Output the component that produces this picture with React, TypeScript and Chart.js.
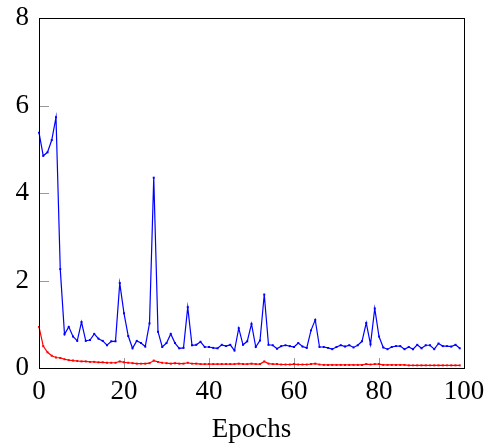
import React, { useEffect, useRef } from "react";
import { Chart, registerables } from "chart.js";

Chart.register(...registerables);

const epochs: number[] = Array.from({ length: 100 }, (_, i) => i);

const blueLoss: number[] = [
  5.38, 4.85, 4.93, 5.21, 5.73, 2.26, 0.77, 0.94, 0.72, 0.62,
  1.05, 0.62, 0.64, 0.78, 0.67, 0.62, 0.52, 0.61, 0.61, 1.94,
  1.25, 0.73, 0.45, 0.62, 0.57, 0.49, 1.02, 4.35, 0.83, 0.48,
  0.57, 0.78, 0.57, 0.45, 0.46, 1.39, 0.52, 0.53, 0.6, 0.48,
  0.48, 0.46, 0.45, 0.53, 0.5, 0.53, 0.4, 0.91, 0.53, 0.61,
  1.01, 0.48, 0.63, 1.68, 0.53, 0.52, 0.44, 0.5, 0.52, 0.5,
  0.48, 0.57, 0.49, 0.46, 0.86, 1.1, 0.48, 0.48, 0.46, 0.43,
  0.48, 0.52, 0.49, 0.52, 0.47, 0.52, 0.61, 1.03, 0.54, 1.36,
  0.72, 0.47, 0.43, 0.48, 0.5, 0.5, 0.43, 0.48, 0.43, 0.53,
  0.45, 0.52, 0.52, 0.43, 0.56, 0.5, 0.5, 0.49, 0.53, 0.45,
];

const redLoss: number[] = [
  0.94, 0.5, 0.36, 0.28, 0.24, 0.23, 0.2, 0.18, 0.17, 0.16,
  0.15, 0.15, 0.14, 0.14, 0.13, 0.13, 0.12, 0.12, 0.12, 0.15,
  0.13, 0.12, 0.11, 0.1, 0.1, 0.1, 0.11, 0.17, 0.14, 0.12,
  0.11, 0.1, 0.11, 0.1, 0.1, 0.12, 0.1, 0.1, 0.09, 0.09,
  0.09, 0.09, 0.09, 0.09, 0.09, 0.09, 0.09, 0.1, 0.09, 0.09,
  0.1, 0.09, 0.09, 0.15, 0.1, 0.09, 0.09, 0.08, 0.08, 0.08,
  0.09, 0.08, 0.08, 0.08, 0.09, 0.1, 0.08, 0.07, 0.07, 0.07,
  0.07, 0.07, 0.07, 0.07, 0.07, 0.07, 0.07, 0.09, 0.08, 0.09,
  0.09, 0.07, 0.07, 0.07, 0.07, 0.07, 0.07, 0.06, 0.06, 0.06,
  0.06, 0.06, 0.06, 0.06, 0.06, 0.06, 0.06, 0.06, 0.06, 0.06,
];

const xTicks: number[] = [0, 20, 40, 60, 80, 100];
const yTicks: number[] = [0, 2, 4, 6, 8];
const xTitle = "Epochs";

const FONT = "'Liberation Serif', 'Times New Roman', serif";

const framePlugin = {
  id: "frame",
  beforeDatasetsDraw(chart: any) {
    const { ctx, chartArea: a, scales } = chart;
    const x = scales.x;
    const y = scales.y;
    ctx.save();
    ctx.strokeStyle = "#999999";
    ctx.lineWidth = 1;
    ctx.beginPath();
    for (const v of xTicks) {
      if (v <= 0 || v >= 100) continue;
      const px = Math.round(x.getPixelForValue(v)) + 0.5;
      ctx.moveTo(px, a.bottom);
      ctx.lineTo(px, a.bottom - 10);
    }
    for (const v of yTicks) {
      if (v <= 0 || v >= 8) continue;
      const py = Math.round(y.getPixelForValue(v)) + 0.5;
      ctx.moveTo(a.left, py);
      ctx.lineTo(a.left + 10, py);
    }
    ctx.stroke();
    ctx.restore();
  },
  afterDatasetsDraw(chart: any) {
    const { ctx, chartArea: a } = chart;
    ctx.save();
    ctx.strokeStyle = "#000000";
    ctx.lineWidth = 1;
    ctx.strokeRect(
      Math.round(a.left) + 0.5,
      Math.round(a.top) + 0.5,
      Math.round(a.right - a.left),
      Math.round(a.bottom - a.top)
    );
    ctx.restore();
  },
};

export default function App() {
  const canvasRef = useRef<HTMLCanvasElement | null>(null);

  useEffect(() => {
    if (!canvasRef.current) return;
    const chart = new Chart(canvasRef.current, {
      type: "line",
      data: {
        datasets: [
          {
            label: "blue",
            data: epochs.map((e, i) => ({ x: e, y: blueLoss[i] })),
            borderColor: "#0000ff",
            backgroundColor: "#0000ff",
            borderWidth: 1.2,
            pointRadius: 1.4,
            pointStyle: "rect",
            pointBorderWidth: 0,
            tension: 0,
            clip: false as any,
          },
          {
            label: "red",
            data: epochs.map((e, i) => ({ x: e, y: redLoss[i] })),
            borderColor: "#ff0000",
            backgroundColor: "#ff0000",
            borderWidth: 1.2,
            pointRadius: 1.4,
            pointStyle: "rect",
            pointBorderWidth: 0,
            tension: 0,
            clip: false as any,
          },
        ],
      },
      options: {
        responsive: false,
        animation: false,
        layout: { padding: { top: 18, right: 30, left: 0, bottom: 0 } },
        plugins: {
          legend: { display: false },
          tooltip: { enabled: false },
        },
        scales: {
          x: {
            type: "linear",
            min: 0,
            max: 100,
            afterBuildTicks: (scale: any) => {
              scale.ticks = xTicks.map((v) => ({ value: v }));
            },
            afterFit: (scale: any) => {
              scale.height = 79;
              scale.paddingLeft = 0;
              scale.paddingRight = 0;
            },
            grid: { display: false, drawTicks: false },
            border: { display: false },
            ticks: {
              color: "#000000",
              font: { family: FONT, size: 27 },
              padding: 8,
              maxRotation: 0,
              autoSkip: false,
            },
            title: {
              display: true,
              text: xTitle,
              color: "#000000",
              font: { family: FONT, size: 27 },
              padding: { top: 0, bottom: 1 },
            },
          },
          y: {
            type: "linear",
            min: 0,
            max: 8,
            afterBuildTicks: (scale: any) => {
              scale.ticks = yTicks.map((v) => ({ value: v }));
            },
            afterFit: (scale: any) => {
              scale.width = 39;
              scale.paddingTop = 0;
              scale.paddingBottom = 0;
            },
            grid: { display: false, drawTicks: false },
            border: { display: false },
            ticks: {
              color: "#000000",
              font: { family: FONT, size: 27 },
              padding: 10,
            },
          },
        },
      },
      plugins: [framePlugin],
    });
    return () => chart.destroy();
  }, []);

  return (
    <div style={{ position: "absolute", left: 0, top: 0, width: 494, height: 447, background: "#ffffff" }}>
      <canvas ref={canvasRef} width={494} height={447} style={{ display: "block" }} />
    </div>
  );
}
